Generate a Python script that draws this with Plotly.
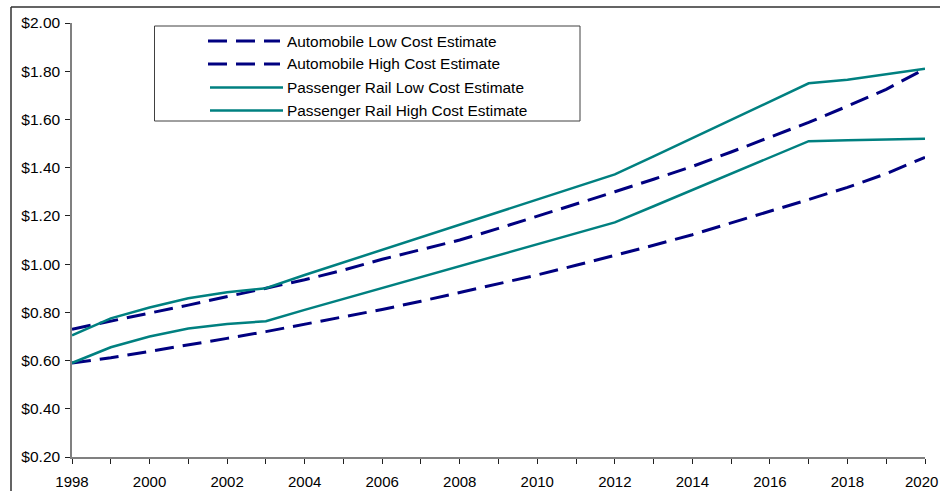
import plotly.graph_objects as go

years = list(range(1998, 2021))

auto_low = [0.590, 0.612, 0.638, 0.664, 0.692, 0.720, 0.750, 0.780, 0.812, 0.846,
            0.882, 0.918, 0.955, 0.995, 1.035, 1.078, 1.122, 1.170, 1.220, 1.268,
            1.318, 1.375, 1.443]
auto_high = [0.730, 0.765, 0.797, 0.830, 0.866, 0.900, 0.935, 0.975, 1.020, 1.060,
             1.100, 1.148, 1.198, 1.250, 1.300, 1.352, 1.405, 1.465, 1.527, 1.588,
             1.655, 1.725, 1.810]
rail_low = [0.590, 0.655, 0.700, 0.733, 0.752, 0.763, 0.810, 0.855, 0.900, 0.948,
            0.993, 1.037, 1.082, 1.127, 1.173, 1.240, 1.308, 1.376, 1.443, 1.510,
            1.514, 1.517, 1.520]
rail_high = [0.705, 0.775, 0.820, 0.858, 0.883, 0.900, 0.955, 1.007, 1.060, 1.113,
             1.163, 1.215, 1.266, 1.318, 1.372, 1.447, 1.522, 1.598, 1.675, 1.750,
             1.765, 1.787, 1.810]

series_names = [
    "Automobile Low Cost Estimate",
    "Automobile High Cost Estimate",
    "Passenger Rail Low Cost Estimate",
    "Passenger Rail High Cost Estimate",
]
series_values = [auto_low, auto_high, rail_low, rail_high]

y_ticks = [0.2, 0.4, 0.6, 0.8, 1.0, 1.2, 1.4, 1.6, 1.8, 2.0]
y_tick_labels = ["$%.2f" % v for v in y_ticks]
x_ticks = list(range(1998, 2021, 2))
x_tick_labels = [str(v) for v in x_ticks]

NAVY = "#000080"
TEAL = "#008080"
FONT = "Liberation Sans, Arial, sans-serif"

W, H = 940, 491
ML, MR, MT, MB = 72, 15, 23, 34
PW, PH = W - ML - MR, H - MT - MB


def px_x(x):
    return (x - ML) / PW


def px_y(y):
    return (H - MB - y) / PH


styles = [
    dict(color=NAVY, width=3, dash="19px,9px"),
    dict(color=NAVY, width=3, dash="19px,9px"),
    dict(color=TEAL, width=2.5, dash="solid"),
    dict(color=TEAL, width=2.5, dash="solid"),
]

fig = go.Figure()
for name, vals, st in zip(series_names, series_values, styles):
    fig.add_trace(go.Scatter(x=years, y=vals, mode="lines", name=name,
                             line=st, showlegend=False))

shapes = []
annotations = []

# outer chart frame (top and left edges are the visible ones)
frame = dict(color="#303030", width=1.5)
shapes.append(dict(type="line", xref="paper", yref="paper",
                   x0=px_x(11), x1=px_x(945), y0=px_y(7), y1=px_y(7), line=frame))
shapes.append(dict(type="line", xref="paper", yref="paper",
                   x0=px_x(11), x1=px_x(11), y0=px_y(7), y1=px_y(500), line=frame))

# legend box
shapes.append(dict(type="rect", xref="paper", yref="paper",
                   x0=px_x(154.5), x1=px_x(580), y0=px_y(121), y1=px_y(26),
                   line=dict(color="#404040", width=1), fillcolor="white"))

row_y = [41, 64, 87.5, 110.5]
for name, st, ry in zip(series_names, styles, row_y):
    if st["dash"] == "solid":
        x0, x1 = 210, 283
    else:
        x0, x1 = 208, 280
    shapes.append(dict(type="line", xref="paper", yref="paper",
                       x0=px_x(x0), x1=px_x(x1), y0=px_y(ry), y1=px_y(ry),
                       line=dict(color=st["color"], width=st["width"],
                                 dash=st["dash"])))
    annotations.append(dict(xref="paper", yref="paper", x=px_x(285), y=px_y(ry),
                            xanchor="left", yanchor="middle", text=name,
                            showarrow=False,
                            font=dict(family=FONT, size=15.4, color="black")))

# the last year label sits against the right edge of the page, so it is
# right-aligned there instead of centred on its tick
axis_tick_text = x_tick_labels[:-1] + [""]
annotations.append(dict(xref="paper", yref="paper", x=px_x(939.5), y=px_y(482),
                        xanchor="right", yanchor="middle", text=x_tick_labels[-1],
                        showarrow=False,
                        font=dict(family=FONT, size=15, color="black")))

fig.update_layout(
    width=W, height=H,
    margin=dict(l=ML, r=MR, t=MT, b=MB, autoexpand=False),
    paper_bgcolor="white", plot_bgcolor="white",
    font=dict(family=FONT, size=15.5, color="black"),
    shapes=shapes, annotations=annotations,
    xaxis=dict(range=[1998, 2020], tickvals=x_ticks, ticktext=axis_tick_text,
               showgrid=False, zeroline=False, showline=True, linecolor="#808080",
               linewidth=1.5, ticks="outside", ticklen=5, tickcolor="#202020",
               minor=dict(dtick=1, tick0=1998, ticks="outside", ticklen=5,
                          tickcolor="#202020"),
               ticklabelstandoff=5, ticklabeloverflow="allow", automargin=False,
               tickfont=dict(family=FONT, size=15), fixedrange=True),
    yaxis=dict(range=[0.2, 2.0], tickvals=y_ticks, ticktext=y_tick_labels,
               showgrid=False, zeroline=False, showline=True, linecolor="#808080",
               linewidth=1.5, ticks="outside", ticklen=5, tickcolor="#202020",
               ticklabelstandoff=2, automargin=False,
               tickfont=dict(family=FONT, size=15.5), fixedrange=True),
)

fig.write_html("out.html")
